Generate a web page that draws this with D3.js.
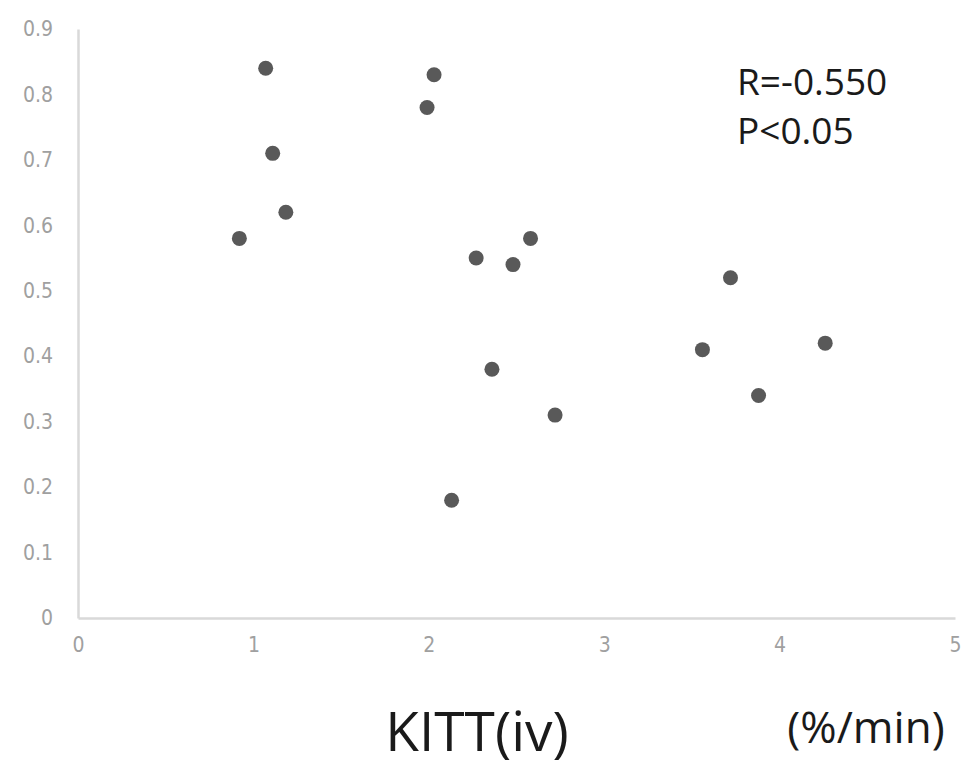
<!DOCTYPE html>
<html><head><meta charset="utf-8">
<script src="https://cdn.jsdelivr.net/npm/d3@7"></script>
<style>body{margin:0;background:#fff}svg{display:block}</style>
</head><body><svg id="c" width="967" height="769"></svg>
<script>
const xValues = [1.07, 1.11, 1.185, 0.92, 2.03, 1.99, 2.27, 2.48, 2.58, 2.36, 2.72, 2.13, 3.72, 3.56, 4.26, 3.88];
const yValues = [0.84, 0.71, 0.62, 0.58, 0.83, 0.78, 0.55, 0.54, 0.58, 0.38, 0.31, 0.18, 0.52, 0.41, 0.42, 0.34];
const xTicks = [0, 1, 2, 3, 4, 5];
const yTicks = [0, 0.1, 0.2, 0.3, 0.4, 0.5, 0.6, 0.7, 0.8, 0.9];
const annotations = ["R=-0.550", "P<0.05"];
const xTitle = "KITT(iv)";
const xUnit = "(%/min)";

const svg = d3.select("#c");
const x = d3.scaleLinear().domain([0, 5]).range([78, 955]);
const y = d3.scaleLinear().domain([0, 0.9]).range([618, 29]);
const tickFont = "'Liberation Sans Narrow','DejaVu Sans Condensed','Roboto',sans-serif";

// axes
const xa = svg.append("g").attr("transform", `translate(0,${y(0)})`)
  .call(d3.axisBottom(x).tickValues(xTicks).tickSize(0).tickPadding(19).tickFormat(d3.format("d")));
const ya = svg.append("g").attr("transform", `translate(${x(0)},0)`)
  .call(d3.axisLeft(y).tickValues(yTicks).tickSize(0).tickPadding(25).tickFormat(d => d === 0 ? "0" : d3.format(".1f")(d)));
[xa, ya].forEach(a => {
  a.select(".domain").attr("stroke", "#d9d9d9").attr("stroke-width", 2.5);
  a.selectAll("text").attr("fill", "#a0a0a0").attr("font-family", tickFont)
    .attr("font-size", 21);
});

// points
svg.append("g").selectAll("circle").data(xValues).join("circle")
  .attr("cx", (d) => x(d)).attr("cy", (d, i) => y(yValues[i]))
  .attr("r", 7.5).attr("fill", "#595959");

// annotations
svg.append("g").selectAll("text").data(annotations).join("text")
  .attr("x", 737).attr("y", (d, i) => 95 + i * 49)
  .attr("font-family", "'Open Sans',sans-serif").attr("font-size", 37)
  .attr("fill", "#1a1a1a").text(d => d);

svg.append("text").attr("x", 477).attr("y", 751).attr("text-anchor", "middle")
  .attr("font-family", "'Open Sans',sans-serif").attr("font-size", 55)
  .attr("fill", "#1a1a1a").text(xTitle);
svg.append("text").attr("x", 866).attr("y", 743).attr("text-anchor", "middle")
  .attr("font-family", "'Open Sans',sans-serif").attr("font-size", 44)
  .attr("fill", "#1a1a1a").text(xUnit);
</script></body></html>
